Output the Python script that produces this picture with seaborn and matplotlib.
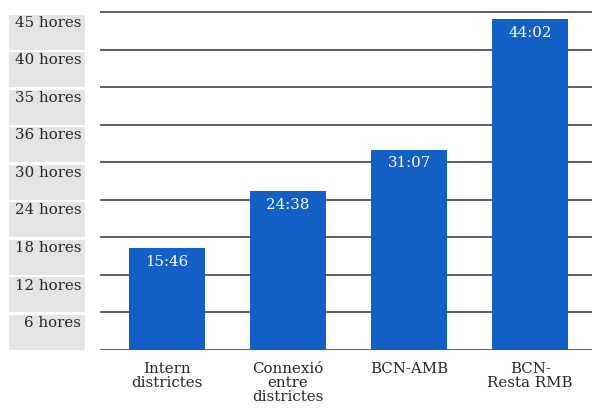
import numpy as np
import pandas as pd
import matplotlib
matplotlib.use("Agg")
import matplotlib.pyplot as plt
from matplotlib.patches import Rectangle
import seaborn as sns

# ---- data ----
categories = ["Intern\ndistrictes", "Connexió\nentre\ndistrictes", "BCN-AMB", "BCN-\nResta RMB"]
durations = ["15:46", "24:38", "31:07", "44:02"]
tick_labels = ["6 hores", "12 hores", "18 hores", "24 hores", "30 hores",
               "36 hores", "35 hores", "40 hores", "45 hores"]
# piecewise axis of the original infographic (hours -> grid band)
hour_breaks = [0, 35, 40, 45]
band_breaks = [0, 6, 8, 9]


def to_hours(s):
    h, m = s.split(":")
    return int(h) + int(m) / 60


hours = [to_hours(d) for d in durations]
df = pd.DataFrame({"cat": categories, "hours": hours, "label": durations})


def _pw(x, xs, ys):
    x = np.asarray(x, dtype=float)
    out = np.interp(x, xs, ys)
    lo_s = (ys[1] - ys[0]) / (xs[1] - xs[0])
    hi_s = (ys[-1] - ys[-2]) / (xs[-1] - xs[-2])
    out = np.where(x < xs[0], ys[0] + (x - xs[0]) * lo_s, out)
    out = np.where(x > xs[-1], ys[-1] + (x - xs[-1]) * hi_s, out)
    return out


def fwd(h):
    return _pw(h, hour_breaks, band_breaks)


def inv(b):
    return _pw(b, band_breaks, hour_breaks)


# ---- style ----
sns.set_theme(style="white")
plt.rcParams["font.family"] = ["DejaVu Serif"]
FS = 10.8
TXT = "#262626"

W, H = 592, 409
fig = plt.figure(figsize=(W / 100, H / 100), dpi=100)
band_px = 37.52
top_band = 9.03
ax = fig.add_axes([100 / W, (H - 349.7) / H, 492 / W, top_band * band_px / H])

sns.barplot(data=df, x="cat", y="hours", color="#1260c6", saturation=1,
            width=0.625, ax=ax, zorder=3, linewidth=0, edgecolor="none")

ax.set_yscale("function", functions=(fwd, inv))
ax.set_ylim(0, float(inv(top_band)))
ax.set_xlim(-0.55, 3.51)

# grid lines at band edges
ax.set_yticks(inv(np.arange(0, 10)))
ax.set_yticklabels([""] * 10)
ax.yaxis.grid(True, which="major", color="#4a4a4a", linewidth=1.25)
ax.set_axisbelow(True)
# labels in each band
ax.set_yticks(inv(np.arange(9) + 0.75), labels=tick_labels, minor=True)
ax.tick_params(axis="y", which="both", length=0)
ax.tick_params(axis="y", which="minor", pad=13.5, labelsize=FS, labelcolor=TXT)
ax.tick_params(axis="x", length=0, pad=8.5, labelsize=FS, labelcolor=TXT)
for t in ax.get_xticklabels():
    t.set_linespacing(1.02)
    t.set_verticalalignment("top")

for s in ax.spines.values():
    s.set_visible(False)
ax.set_xlabel("")
ax.set_ylabel("")

# gray label boxes
for k in range(9):
    ax.add_patch(Rectangle((-91 / 492, k / top_band), 76 / 492, 0.93 / top_band,
                           transform=ax.transAxes, facecolor="#e4e4e4",
                           edgecolor="none", clip_on=False, zorder=0.5))

# value labels inside bars
for i, (h, lab) in enumerate(zip(hours, durations)):
    ax.annotate(lab, (i, h), xytext=(0, -10), textcoords="offset points",
                ha="center", va="center", color="white", fontsize=FS, zorder=5)

fig.savefig("out.png", dpi=100)
